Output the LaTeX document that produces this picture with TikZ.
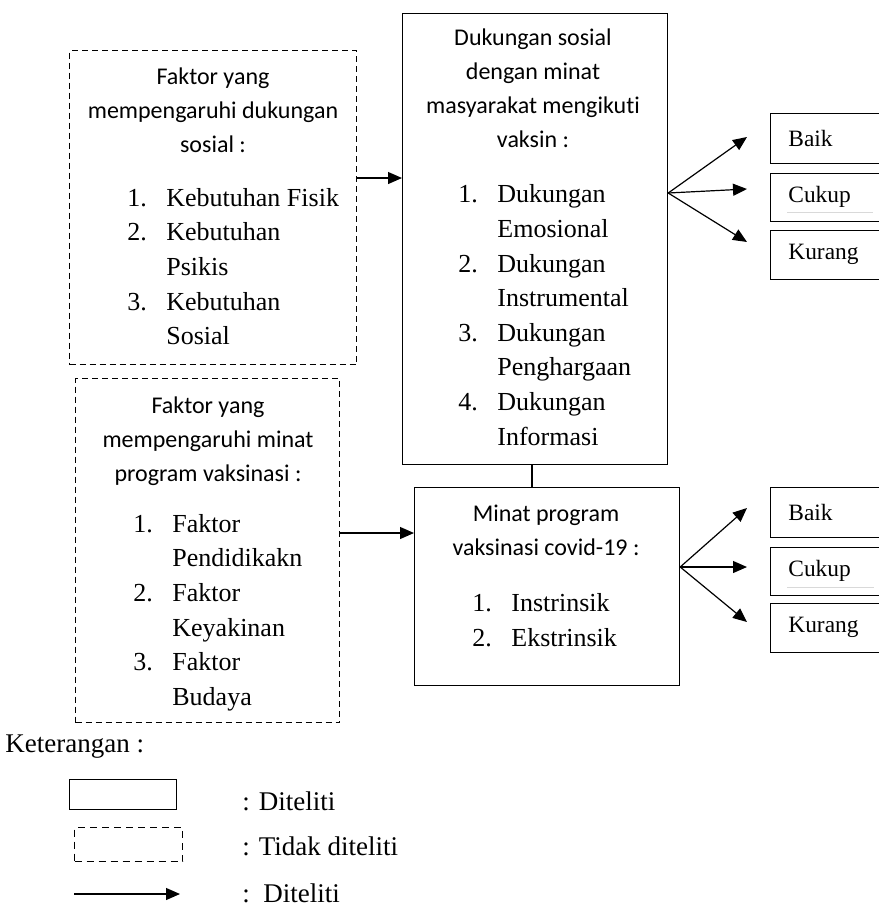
\documentclass[tikz,border=0pt]{standalone}
\usepackage{fontspec}
\setmainfont{Liberation Serif}
\newfontfamily\carlito[Ligatures={NoCommon}]{Carlito}
\usetikzlibrary{arrows.meta}
\newcommand\itm[1]{\makebox[19.5pt][l]{#1}}
\begin{document}
\begin{tikzpicture}[x=0.5pt,y=-0.5pt,
 sbox/.style={draw, line width=0.6pt, rectangle, inner sep=0pt, anchor=north west},
 dbox/.style={sbox, dash pattern=on 3pt off 2pt},
 head/.style={font=\carlito\fontsize{12}{17}\selectfont, align=center, inner sep=0pt},
 lst/.style={font=\fontsize{13}{17.3}\selectfont, align=left, inner sep=0pt, anchor=west},
 outc/.style={font=\fontsize{11.7}{14}\selectfont, inner sep=0pt, anchor=west},
 leg/.style={font=\fontsize{13.5}{16}\selectfont, inner sep=0pt, anchor=west},
 arr/.style={line width=0.6pt, -{Triangle[length=7pt,width=6pt]}},
 ln/.style={line width=0.6pt},
 faint/.style={draw=gray!30, line width=0.4pt},
 ]
\useasboundingbox (0,0) rectangle (879,907);

% boxes
\node[dbox, minimum width=143.5pt, minimum height=157pt] (A) at (69,50) {};
\node[dbox, minimum width=132pt, minimum height=172pt] (B) at (75,378) {};
\node[sbox, minimum width=132.5pt, minimum height=225.5pt] (C) at (402,13) {};
\node[sbox, minimum width=132.5pt, minimum height=99pt] (D) at (414,487) {};

% box texts
\node[head] (Ah) at (213,110) {Faktor yang\\mempengaruhi dukungan\\sosial :};
\node[lst] (Al) at (127,266.5) {\itm{1.}Kebutuhan Fisik\\\itm{2.}Kebutuhan\\\itm{}Psikis\\\itm{3.}Kebutuhan\\\itm{}Sosial};

\node[head] (Bh) at (208,441) {Faktor yang\\mempengaruhi minat\\program vaksinasi :};
\node[lst] (Bl) at (133,612.5) {\itm{1.}Faktor\\\itm{}Pendidikakn\\\itm{2.}Faktor\\\itm{}Keyakinan\\\itm{3.}Faktor\\\itm{}Budaya};

\node[head] (Ch) at (533,88) {Dukungan sosial\\dengan minat\\masyarakat mengikuti\\vaksin :};
\node[lst] (Cl) at (458,315) {\itm{1.}Dukungan\\\itm{}Emosional\\\itm{2.}Dukungan\\\itm{}Instrumental\\\itm{3.}Dukungan\\\itm{}Penghargaan\\\itm{4.}Dukungan\\\itm{}Informasi};

\node[head] (Dh) at (546,530) {Minat program\\vaksinasi covid-19 :};
\node[lst] (Dl) at (472,620) {\itm{1.}Instrinsik\\\itm{2.}Ekstrinsik};

% outcome boxes (cut at right edge)
\node[sbox, minimum width=62pt, minimum height=25pt] (O1) at (770,113) {};
\node[sbox, minimum width=62pt, minimum height=24pt] (O2) at (770,173) {};
\node[sbox, minimum width=62pt, minimum height=24.5pt] (O3) at (770,230) {};
\node[sbox, minimum width=62pt, minimum height=25pt] (P1) at (770,487) {};
\node[sbox, minimum width=62pt, minimum height=24pt] (P2) at (770,547) {};
\node[sbox, minimum width=62pt, minimum height=24.5pt] (P3) at (770,603) {};
\node[outc] (O1t) at (788,138) {Baik};
\node[outc] (O2t) at (788,197) {Cukup};
\node[outc] (O3t) at (788,254) {Kurang};
\node[outc] (P1t) at (788,512) {Baik};
\node[outc] (P2t) at (788,571) {Cukup};
\node[outc] (P3t) at (788,627) {Kurang};
\draw[faint] (787,212) -- (873,212);
\draw[faint] (787,587) -- (874,587);

% connectors
\coordinate (ac) at (0,178);
\draw[arr] (A.east |- ac) -- (C.west |- ac);
\coordinate (bd) at (0,533);
\draw[arr] (B.east |- bd) -- (D.west |- bd);
\coordinate (cd) at (532,0);
\draw[ln] (C.south -| cd) -- (D.north -| cd);

\coordinate (cf) at (0,193);
\coordinate (e1) at (747,137);
\coordinate (e2) at (747,189);
\coordinate (e3) at (747,242);
\draw[arr] (C.east |- cf) -- (e1);
\draw[arr] (C.east |- cf) -- (e2);
\draw[arr] (C.east |- cf) -- (e3);

\coordinate (df) at (0,567);
\coordinate (f1) at (747,508);
\coordinate (f2) at (747,567);
\coordinate (f3) at (747,622);
\draw[arr] (D.east |- df) -- (f1);
\draw[arr] (D.east |- df) -- (f2);
\draw[arr] (D.east |- df) -- (f3);

% legend
\node[leg] (K) at (5,747) {Keterangan :};
\node[sbox, minimum width=53.5pt, minimum height=15pt] (L1) at (69,779) {};
\node[sbox, dash pattern=on 3.5pt off 2.5pt, minimum width=54pt, minimum height=17pt] (L2) at (74,827) {};
\coordinate (l3a) at (74,894);
\coordinate (l3b) at (180,894);
\draw[arr] (l3a) -- (l3b);
\node[leg] (L1t) at (242,801) {: Diteliti};
\node[leg] (L2t) at (242,846) {: Tidak diteliti};
\node[leg] (L3t) at (242,893) {:\ \ Diteliti};
\end{tikzpicture}
\end{document}
